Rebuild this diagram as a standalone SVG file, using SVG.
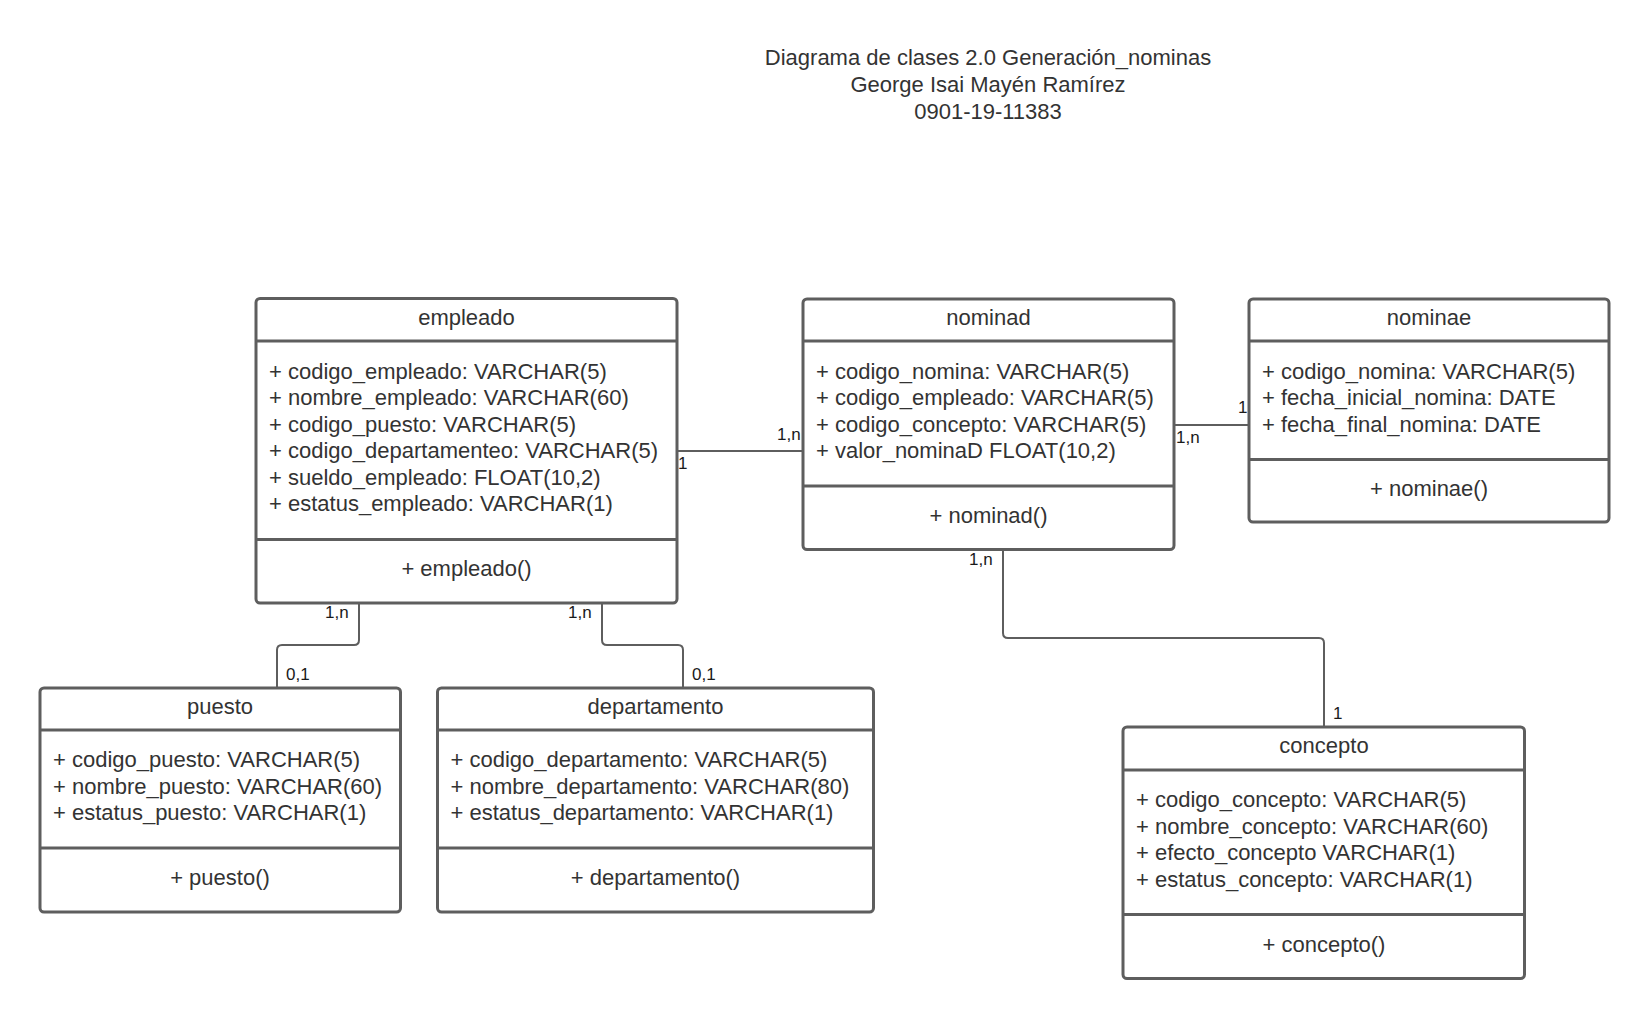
<svg xmlns="http://www.w3.org/2000/svg" width="1649" height="1019" viewBox="0 0 1649 1019">
  <style>
    .box { fill: #ffffff; stroke: #5e5e5e; stroke-width: 3; }
    .sep { stroke: #5e5e5e; stroke-width: 3; }
    .edge { fill: none; stroke: #5e5e5e; stroke-width: 2; }
    text { font-family: "Liberation Sans", Arial, sans-serif; fill: #333333; }
    .t { font-size: 22px; }
    .c { text-anchor: middle; }
    .lbl { font-size: 17px; fill: #1a1a1a; }
  </style>
  <rect width="1649" height="1019" fill="#ffffff"/>

  <!-- Title block -->
  <g id="title">
    <text class="t c" x="988" y="65">Diagrama de clases 2.0 Generación_nominas</text>
    <text class="t c" x="988" y="92">George Isai Mayén Ramírez</text>
    <text class="t c" x="988" y="119">0901-19-11383</text>
  </g>

  <!-- Associations -->
  <g id="connectors">
    <!-- empleado - nominad -->
    <path class="edge" d="M677,451 H803"/>
    <text class="lbl" x="678" y="469">1</text>
    <text class="lbl" x="777" y="440">1,n</text>
    <!-- nominad - nominae -->
    <path class="edge" d="M1174,425 H1249"/>
    <text class="lbl" x="1176" y="443">1,n</text>
    <text class="lbl" x="1238" y="413">1</text>
    <!-- empleado - puesto -->
    <path class="edge" d="M359,603 V640 Q359,645 354,645 H282 Q277,645 277,650 V688"/>
    <text class="lbl" x="325" y="618">1,n</text>
    <text class="lbl" x="286" y="680">0,1</text>
    <!-- empleado - departamento -->
    <path class="edge" d="M602,603 V640 Q602,645 607,645 H678 Q683,645 683,650 V688"/>
    <text class="lbl" x="568" y="618">1,n</text>
    <text class="lbl" x="692" y="680">0,1</text>
    <!-- nominad - concepto -->
    <path class="edge" d="M1003,549 V633 Q1003,638 1008,638 H1319 Q1324,638 1324,643 V727"/>
    <text class="lbl" x="969" y="565">1,n</text>
    <text class="lbl" x="1333" y="719">1</text>
  </g>

  <!-- Class: empleado -->
  <g id="empleado">
    <rect class="box" x="256" y="298.5" width="421" height="304.5" rx="4"/>
    <line class="sep" x1="256" y1="341" x2="677" y2="341"/>
    <line class="sep" x1="256" y1="539.5" x2="677" y2="539.5"/>
    <text class="t c" x="466.5" y="324.5">empleado</text>
    <text class="t" x="269" y="378.5">+ codigo_empleado: VARCHAR(5)</text>
    <text class="t" x="269" y="405">+ nombre_empleado: VARCHAR(60)</text>
    <text class="t" x="269" y="431.5">+ codigo_puesto: VARCHAR(5)</text>
    <text class="t" x="269" y="458">+ codigo_departamenteo: VARCHAR(5)</text>
    <text class="t" x="269" y="484.5">+ sueldo_empleado: FLOAT(10,2)</text>
    <text class="t" x="269" y="511">+ estatus_empleado: VARCHAR(1)</text>
    <text class="t c" x="466.5" y="576">+ empleado()</text>
  </g>

  <!-- Class: nominad -->
  <g id="nominad">
    <rect class="box" x="803" y="299" width="371" height="250.5" rx="4"/>
    <line class="sep" x1="803" y1="341" x2="1174" y2="341"/>
    <line class="sep" x1="803" y1="486" x2="1174" y2="486"/>
    <text class="t c" x="988.5" y="324.5">nominad</text>
    <text class="t" x="816" y="378.5">+ codigo_nomina: VARCHAR(5)</text>
    <text class="t" x="816" y="405">+ codigo_empleado: VARCHAR(5)</text>
    <text class="t" x="816" y="431.5">+ codigo_concepto: VARCHAR(5)</text>
    <text class="t" x="816" y="458">+ valor_nominaD FLOAT(10,2)</text>
    <text class="t c" x="988.5" y="522.5">+ nominad()</text>
  </g>

  <!-- Class: nominae -->
  <g id="nominae">
    <rect class="box" x="1249" y="299" width="360" height="223" rx="4"/>
    <line class="sep" x1="1249" y1="341" x2="1609" y2="341"/>
    <line class="sep" x1="1249" y1="459.5" x2="1609" y2="459.5"/>
    <text class="t c" x="1429" y="324.5">nominae</text>
    <text class="t" x="1262" y="378.5">+ codigo_nomina: VARCHAR(5)</text>
    <text class="t" x="1262" y="405">+ fecha_inicial_nomina: DATE</text>
    <text class="t" x="1262" y="431.5">+ fecha_final_nomina: DATE</text>
    <text class="t c" x="1429" y="496">+ nominae()</text>
  </g>

  <!-- Class: puesto -->
  <g id="puesto">
    <rect class="box" x="40" y="688" width="360.5" height="224" rx="4"/>
    <line class="sep" x1="40" y1="730" x2="400.5" y2="730"/>
    <line class="sep" x1="40" y1="848" x2="400.5" y2="848"/>
    <text class="t c" x="220" y="713.5">puesto</text>
    <text class="t" x="53" y="767">+ codigo_puesto: VARCHAR(5)</text>
    <text class="t" x="53" y="793.5">+ nombre_puesto: VARCHAR(60)</text>
    <text class="t" x="53" y="820">+ estatus_puesto: VARCHAR(1)</text>
    <text class="t c" x="220" y="884.5">+ puesto()</text>
  </g>

  <!-- Class: departamento -->
  <g id="departamento">
    <rect class="box" x="437.5" y="688" width="436" height="224" rx="4"/>
    <line class="sep" x1="437.5" y1="730" x2="873.5" y2="730"/>
    <line class="sep" x1="437.5" y1="848" x2="873.5" y2="848"/>
    <text class="t c" x="655.5" y="713.5">departamento</text>
    <text class="t" x="450.5" y="767">+ codigo_departamento: VARCHAR(5)</text>
    <text class="t" x="450.5" y="793.5">+ nombre_departamento: VARCHAR(80)</text>
    <text class="t" x="450.5" y="820">+ estatus_departamento: VARCHAR(1)</text>
    <text class="t c" x="655.5" y="884.5">+ departamento()</text>
  </g>

  <!-- Class: concepto -->
  <g id="concepto">
    <rect class="box" x="1123" y="727" width="401.5" height="251.5" rx="4"/>
    <line class="sep" x1="1123" y1="770" x2="1524.5" y2="770"/>
    <line class="sep" x1="1123" y1="914.5" x2="1524.5" y2="914.5"/>
    <text class="t c" x="1324" y="753">concepto</text>
    <text class="t" x="1136" y="807">+ codigo_concepto: VARCHAR(5)</text>
    <text class="t" x="1136" y="833.5">+ nombre_concepto: VARCHAR(60)</text>
    <text class="t" x="1136" y="860">+ efecto_concepto VARCHAR(1)</text>
    <text class="t" x="1136" y="886.5">+ estatus_concepto: VARCHAR(1)</text>
    <text class="t c" x="1324" y="951.5">+ concepto()</text>
  </g>
</svg>
